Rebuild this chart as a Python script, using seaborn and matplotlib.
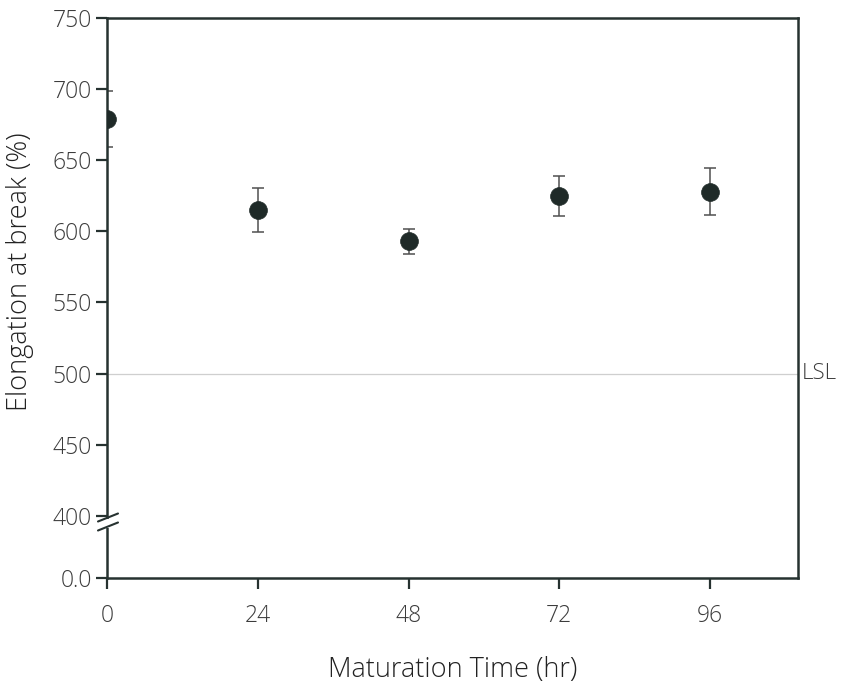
import numpy as np
import pandas as pd
import matplotlib
matplotlib.use("Agg")
import matplotlib.pyplot as plt
import seaborn as sns
from matplotlib.patches import Rectangle
from matplotlib.lines import Line2D

# ---- data ----
time_hr = [0, 24, 48, 72, 96]
elongation = [679, 615, 593, 625, 628]
elong_err = [20, 15.5, 9, 14, 16.5]
lsl_value = 500
lsl_label = "LSL"
x_ticks = [0, 24, 48, 72, 96]
y_ticks = [0, 400, 450, 500, 550, 600, 650, 700, 750]
y_tick_labels = ["0.0", "400", "450", "500", "550", "600", "650", "700", "750"]
x_label = "Maturation Time (hr)"
y_label = "Elongation at break (%)"

sns.set_theme(style="white")
plt.rcParams["font.family"] = ["Open Sans", "DejaVu Sans"]

DARK = "#263230"
TEXT = "#3c3c3c"

fig = plt.figure(figsize=(8.48, 6.92), dpi=100)
ax = fig.add_axes([107/848, 1 - 578/692, (798-107)/848, (578-18)/692])

# broken y scale: 0..400 compressed, 400..750 linear
BRK = 400.0
LOW = 43.7
def fwd(y):
    y = np.asarray(y, dtype=float)
    return np.where(y >= BRK, y - BRK + LOW, y * LOW / BRK)
def inv(v):
    v = np.asarray(v, dtype=float)
    return np.where(v >= LOW, v - LOW + BRK, v * BRK / LOW)
ax.set_yscale("function", functions=(fwd, inv))

df = pd.DataFrame({"time": time_hr, "elong": elongation, "err": elong_err})

ax.errorbar(df["time"], df["elong"], yerr=df["err"], fmt="none",
            ecolor="#505050", elinewidth=1.1, capsize=4.5, capthick=1.1, zorder=2)
sns.scatterplot(data=df, x="time", y="elong", ax=ax, s=165, color="#1f2a28",
                edgecolor="#1f2a28", linewidth=0.5, zorder=3, legend=False)

ax.axhline(lsl_value, color="#cfcfcf", lw=0.9, zorder=1)
ax.text(1.006, lsl_value, lsl_label, transform=ax.get_yaxis_transform(),
        ha="left", va="center", fontsize=16, color=TEXT, fontweight="light")

ax.set_xlim(0, 110)
ax.set_ylim(0, 750)
ax.set_xticks(x_ticks)
ax.set_yticks(y_ticks)
ax.set_yticklabels(y_tick_labels)

for s in ax.spines.values():
    s.set_color(DARK)
    s.set_linewidth(1.8)

ax.tick_params(axis="both", direction="out", length=8, width=1.6, color=DARK,
               labelsize=16.5, labelcolor=TEXT, pad=3)
ax.tick_params(axis="x", pad=11)
for lab in ax.get_xticklabels() + ax.get_yticklabels():
    lab.set_fontweight("light")
ax.yaxis.set_ticks_position("left")
ax.xaxis.set_ticks_position("bottom")

ax.set_xlabel(x_label, fontsize=19.5, color="#222222", labelpad=20, fontweight="light")
ax.set_ylabel(y_label, fontsize=19.5, color="#222222", fontweight="light")
ax.yaxis.set_label_coords(-0.105, (578 - 272) / 560)

# break marks on left spine
H = 560.0
W = 691.0
def ay(py):
    return (578 - py) / H
def axx(px):
    return (px - 107) / W
ax.add_patch(Rectangle((axx(100), ay(528)), axx(114) - axx(100), ay(519) - ay(528),
                       transform=ax.transAxes, facecolor="white", edgecolor="none",
                       clip_on=False, zorder=5))
for yc in (517.5, 526.5):
    ax.add_line(Line2D([axx(98), axx(118)], [ay(yc + 4), ay(yc - 4)],
                       transform=ax.transAxes, color=DARK, lw=1.5,
                       clip_on=False, zorder=6))

fig.savefig("out.png", dpi=100)
